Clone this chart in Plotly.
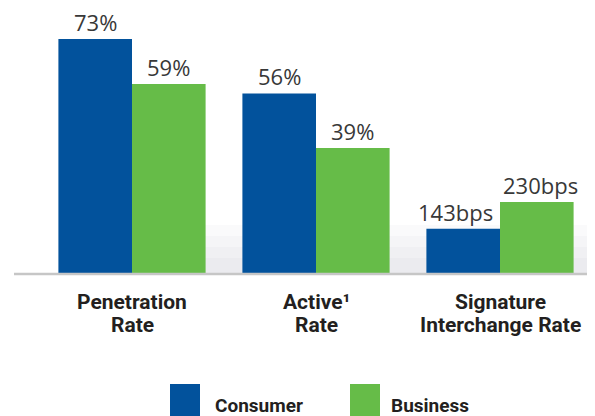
import plotly.graph_objects as go

categories = ["Penetration<br>Rate",
              "Active¹<br>Rate",
              "Signature<br>Interchange Rate"]
pct_categories = categories[:2]
bps_categories = categories[2:]
consumer_pct = [73, 56]
business_pct = [59, 39]
consumer_bps = [143]
business_bps = [230]
series_names = ["Consumer", "Business"]
colors = ["#02529c", "#66bc48"]

W, H = 595, 416
PAGE = 8  # browser body margin
L, T = 40, 20          # plot left/top in page pixels
PW, PH = 552, 253      # plot size
ml, mt = L - PAGE, T - PAGE
mr = W - ml - PW
mb = H - mt - PH

def px_x(p):
    return (p - L) / PW

def px_y(p):
    return (T + PH - p) / PH

fig = go.Figure()
fig.add_trace(go.Bar(x=pct_categories, y=consumer_pct, name=series_names[0],
                     marker=dict(color=colors[0], line=dict(width=0)), offsetgroup="c", yaxis="y"))
fig.add_trace(go.Bar(x=pct_categories, y=business_pct, name=series_names[1],
                     marker=dict(color=colors[1], line=dict(width=0)), offsetgroup="b", yaxis="y"))
fig.add_trace(go.Bar(x=bps_categories, y=consumer_bps, name=series_names[0],
                     marker=dict(color=colors[0], line=dict(width=0)), offsetgroup="c", yaxis="y2"))
fig.add_trace(go.Bar(x=bps_categories, y=business_bps, name=series_names[1],
                     marker=dict(color=colors[1], line=dict(width=0)), offsetgroup="b", yaxis="y2"))

off = PW / 3 * 0.8 / 4

ann = []
label_font = dict(family="Open Sans", size=22, color="#383838")
for cat, v in zip(pct_categories, consumer_pct):
    ann.append(dict(x=cat, y=v, xref="x", yref="y", text=f"{v}%", showarrow=False,
                    xshift=-off, yshift=0, yanchor="bottom", font=label_font))
for cat, v in zip(pct_categories, business_pct):
    ann.append(dict(x=cat, y=v, xref="x", yref="y", text=f"{v}%", showarrow=False,
                    xshift=off, yshift=0, yanchor="bottom", font=label_font))
for cat, v in zip(bps_categories, consumer_bps):
    ann.append(dict(x=cat, y=v, xref="x", yref="y2", text=f"{v}bps", showarrow=False,
                    xshift=-off - 8, yshift=0, yanchor="bottom", font=label_font))
for cat, v in zip(bps_categories, business_bps):
    ann.append(dict(x=cat, y=v, xref="x", yref="y2", text=f"{v}bps", showarrow=False,
                    xshift=off + 4, yshift=0, yanchor="bottom", font=label_font))

# category labels (two lines each)
cat_font = dict(family="Roboto", size=21, color="#231f20")
for cat in categories:
    for i, line in enumerate(cat.split("<br>")):
        ann.append(dict(x=cat, y=px_y(302 + 23 * i), xref="x", yref="paper",
                        text=f"<b>{line}</b>", showarrow=False,
                        yanchor="middle", font=cat_font))

# legend
leg_font = dict(family="Roboto", size=19, color="#231f20")
shapes = []
for name, col, x0, tx in zip(series_names, colors, [170, 350], [213, 389]):
    shapes.append(dict(type="rect", xref="paper", yref="paper",
                       x0=px_x(x0), x1=px_x(x0 + 30), y0=px_y(384), y1=px_y(425),
                       fillcolor=col, line=dict(width=0)))
    ann.append(dict(x=px_x(tx), y=px_y(405), xref="paper", yref="paper", text=f"<b>{name}</b>",
                    showarrow=False, xanchor="left", yanchor="middle", font=leg_font))

# soft shadow behind bars
for top in [225, 236, 247, 258]:
    shapes.append(dict(type="rect", xref="paper", yref="paper", layer="below",
                       x0=px_x(150), x1=px_x(600), y0=px_y(273), y1=px_y(top),
                       fillcolor="#9ea2a8", opacity=0.05, line=dict(width=0)))
# baseline
shapes.append(dict(type="line", xref="paper", yref="paper",
                   x0=px_x(14), x1=px_x(600), y0=px_y(274), y1=px_y(274),
                   line=dict(color="#c6c6c6", width=2.5)))

fig.update_layout(
    width=W, height=H,
    margin=dict(l=ml, r=mr, t=mt, b=mb, autoexpand=False),
    plot_bgcolor="white", paper_bgcolor="white",
    barmode="group", bargap=0.2, bargroupgap=0,
    showlegend=False,
    xaxis=dict(categoryorder="array", categoryarray=categories, range=[-0.5, 2.5],
               showgrid=False, zeroline=False, showline=False, ticks="",
               showticklabels=False),
    yaxis=dict(range=[0, 73 * PH / 234], visible=False, showgrid=False, zeroline=False),
    yaxis2=dict(range=[0, 230 * PH / 71], visible=False, overlaying="y", showgrid=False, zeroline=False),
    shapes=shapes,
    annotations=ann,
)
fig.write_html("out.html")
